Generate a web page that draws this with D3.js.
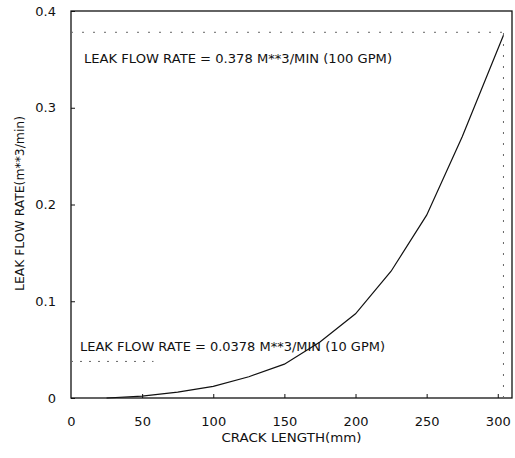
<!DOCTYPE html>
<html>
<head>
<meta charset="utf-8">
<script src="https://cdn.jsdelivr.net/npm/d3@7"></script>
<style>
  body { margin: 0; background: #fff; }
  text { font-family: "DejaVu Sans", "Liberation Sans", Arial, sans-serif; fill: #111; }
</style>
</head>
<body>
<div id="chart"></div>
<script>
// data
var crackLength = [25, 50, 75, 100, 125, 150, 175, 200, 225, 250, 275, 304];
var leakRate = [0, 0.002, 0.006, 0.012, 0.022, 0.035, 0.058, 0.087, 0.131, 0.189, 0.27, 0.375];
var xTicks = [0, 50, 100, 150, 200, 250, 300];
var yTicks = [0, 0.1, 0.2, 0.3, 0.4];
var refLevels = [0.378, 0.0378];
var refLabels = ["LEAK FLOW RATE = 0.378 M**3/MIN (100 GPM)", "LEAK FLOW RATE = 0.0378 M**3/MIN (10 GPM)"];

var W = 515, H = 458,
    margin = {top: 11, right: 3, bottom: 60, left: 71},
    width = W - margin.left - margin.right,
    height = H - margin.top - margin.bottom;

var svg = d3.select("#chart").append("svg")
    .attr("width", W)
    .attr("height", H)
  .append("g")
    .attr("transform", "translate(" + margin.left + "," + margin.top + ")");

var x = d3.scaleLinear().domain([0, 310]).range([0, width]);
var y = d3.scaleLinear().domain([0, 0.4]).range([height, 0]);

// frame
svg.append("rect")
    .attr("width", width).attr("height", height)
    .attr("fill", "none").attr("stroke", "#111").attr("stroke-width", 1.3);

// axes with small inward ticks
var xAxis = svg.append("g")
    .attr("transform", "translate(0," + height + ")")
    .call(d3.axisBottom(x).tickValues(xTicks).tickSizeInner(-4).tickSizeOuter(0).tickPadding(19).tickFormat(d3.format("d")));
var yAxis = svg.append("g")
    .call(d3.axisLeft(y).tickValues(yTicks).tickSizeInner(-4).tickSizeOuter(0).tickPadding(15).tickFormat(function(d) { return d === 0 ? "0" : d3.format(".1f")(d); }));
[xAxis, yAxis].forEach(function(a) {
  a.select(".domain").remove();
  a.selectAll("line").attr("stroke", "#111");
  a.selectAll("text").style("font-size", "13px").attr("fill", "#111");
});
xAxis.selectAll(".tick").filter(function(d) { return d === 0; }).select("line").remove();

// reference dotted lines
var lastX = crackLength[crackLength.length - 1];
svg.append("line")
    .attr("x1", 0).attr("x2", x(lastX))
    .attr("y1", y(refLevels[0])).attr("y2", y(refLevels[0]))
    .attr("stroke", "#666").attr("stroke-width", 1).attr("stroke-dasharray", "2,9");
svg.append("line")
    .attr("x1", 0).attr("x2", x(58))
    .attr("y1", y(refLevels[1])).attr("y2", y(refLevels[1]))
    .attr("stroke", "#666").attr("stroke-width", 1).attr("stroke-dasharray", "2,7");
svg.append("line")
    .attr("x1", x(lastX)).attr("x2", x(lastX))
    .attr("y1", y(0)).attr("y2", y(refLevels[0]))
    .attr("stroke", "#666").attr("stroke-width", 1).attr("stroke-dasharray", "2,9");

// curve
var pts = crackLength.map(function(d, i) { return [d, leakRate[i]]; });
svg.append("path")
    .datum(pts)
    .attr("fill", "none")
    .attr("stroke", "#111")
    .attr("stroke-width", 1.2)
    .attr("d", d3.line().x(function(d) { return x(d[0]); }).y(function(d) { return y(d[1]); }));

// annotations
svg.append("text")
    .attr("x", 13).attr("y", y(refLevels[0]) + 31)
    .attr("textLength", 308).attr("lengthAdjust", "spacingAndGlyphs")
    .style("font-size", "13px")
    .text(refLabels[0]);
svg.append("text")
    .attr("x", 9).attr("y", y(refLevels[1]) - 10)
    .attr("textLength", 305).attr("lengthAdjust", "spacingAndGlyphs")
    .style("font-size", "13px")
    .text(refLabels[1]);

// axis titles
svg.append("text")
    .attr("x", x(155)).attr("y", height + 44)
    .attr("text-anchor", "middle")
    .attr("textLength", 140).attr("lengthAdjust", "spacingAndGlyphs")
    .style("font-size", "12px")
    .text("CRACK LENGTH(mm)");
svg.append("text")
    .attr("transform", "translate(-47," + (y(0.2) - 1) + ") rotate(-90)")
    .attr("text-anchor", "middle")
    .attr("textLength", 175).attr("lengthAdjust", "spacingAndGlyphs")
    .style("font-size", "12px")
    .text("LEAK FLOW RATE(m**3/min)");
</script>
</body>
</html>
